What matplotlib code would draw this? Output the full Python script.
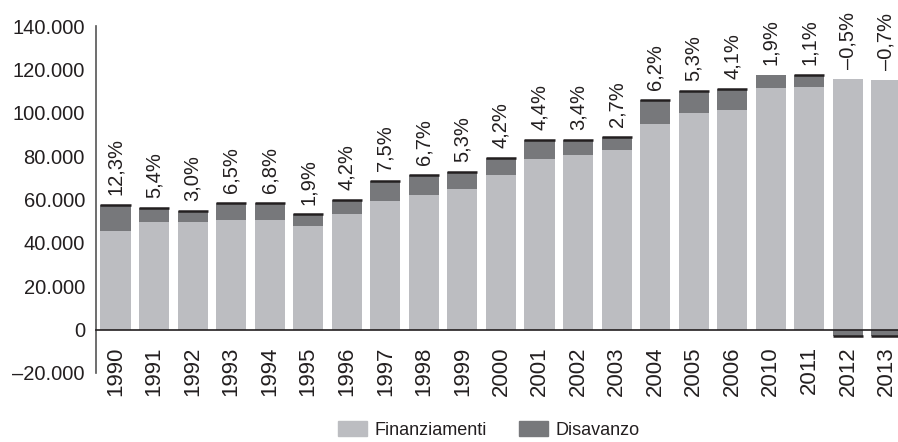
import numpy as np
import matplotlib
matplotlib.use("Agg")
import matplotlib.pyplot as plt
from matplotlib.ticker import FuncFormatter
from matplotlib.patches import Patch

plt.rcParams['font.family'] = ['Liberation Sans', 'DejaVu Sans']
narrow = ['Liberation Sans Narrow', 'Liberation Sans', 'DejaVu Sans']

years = ['1990', '1991', '1992', '1993', '1994', '1995', '1996', '1997', '1998',
         '1999', '2000', '2001', '2002', '2003', '2004', '2005', '2006', '2010',
         '2011', '2012', '2013']
finanziamenti = [45.6, 49.7, 49.7, 50.5, 50.5, 47.9, 53.2, 59.2, 62.0, 64.9, 71.1,
                 78.9, 80.3, 82.6, 95.0, 100.0, 101.4, 111.5, 112.0, 115.6, 115.2]
totale = [57.4, 56.3, 54.9, 58.4, 58.4, 53.1, 60.0, 68.7, 71.3, 72.8, 79.2,
          87.5, 87.5, 89.0, 106.0, 110.1, 110.9, 117.5, 117.5, None, None]
disavanzo_neg = {'2012': -3.0, '2013': -3.0}
percentuali = ['12,3%', '5,4%', '3,0%', '6,5%', '6,8%', '1,9%', '4,2%', '7,5%', '6,7%',
               '5,3%', '4,2%', '4,4%', '3,4%', '2,7%', '6,2%', '5,3%', '4,1%', '1,9%',
               '1,1%', '\u20130,5%', '\u20130,7%']
senza_bordo = ['2010']

light = '#bcbdc1'
dark = '#77787b'
ink = '#231f20'

fin = np.array(finanziamenti) * 1000
dis = []
for i, y in enumerate(years):
    if totale[i] is None:
        dis.append(disavanzo_neg[y] * 1000)
    else:
        dis.append(totale[i] * 1000 - fin[i])
dis = np.array(dis)

x = np.arange(len(years))
w = 0.78

fig = plt.figure(figsize=(8.98, 4.42), dpi=100)
ax = fig.add_axes([96 / 898, 69 / 442, 1 - 96 / 898, (373 - 26) / 442])

ax.bar(x, fin, width=w, color=light, zorder=2)
bottoms = np.where(dis >= 0, fin, 0)
ax.bar(x, dis, width=w, bottom=bottoms, color=dark, zorder=2)

# thin black edge on the disavanzo bars
for i, y in enumerate(years):
    if y in senza_bordo:
        continue
    edge = bottoms[i] + dis[i]
    ax.hlines(edge, x[i] - w / 2, x[i] + w / 2, color=ink, lw=1.8, zorder=3)

for i in range(len(years)):
    top = max(fin[i], bottoms[i] + dis[i])
    ax.annotate(percentuali[i], (x[i], top), xytext=(0, 7), textcoords='offset points',
                rotation=90, ha='center', va='bottom', fontsize=14.5, color=ink,
                family=narrow)

for s in ['top', 'right']:
    ax.spines[s].set_visible(False)
ax.spines['bottom'].set_position(('data', 0))
ax.spines['bottom'].set_color(ink)
ax.spines['bottom'].set_linewidth(1.2)
ax.spines['bottom'].set_zorder(4)
ax.spines['left'].set_color('#555555')
ax.spines['left'].set_linewidth(1.2)

ax.set_xlim(-0.506, 20.3)
ax.set_ylim(-20000, 140000)
ax.set_yticks(np.arange(-20000, 140001, 20000))
ax.yaxis.set_major_formatter(FuncFormatter(
    lambda v, p: ('\u2013' if v < 0 else '') + f'{abs(int(v)):,}'.replace(',', '.')))
ax.set_xticks(x)
ax.set_xticklabels(years, rotation=90, family=narrow)
ax.tick_params(axis='y', length=0, pad=8, labelsize=14.5, labelcolor=ink)
ax.tick_params(axis='x', length=0, pad=12, labelsize=16, labelcolor=ink)

handles = [Patch(color=light, label='Finanziamenti'), Patch(color=dark, label='Disavanzo')]
fig.legend(handles=handles, loc='center', bbox_to_anchor=(489 / 898, 12 / 442), ncol=2,
           frameon=False, fontsize=13, handlelength=1.6, handleheight=0.9,
           handletextpad=0.4, columnspacing=1.8, labelcolor=ink)

fig.savefig('out.png', dpi=100)
